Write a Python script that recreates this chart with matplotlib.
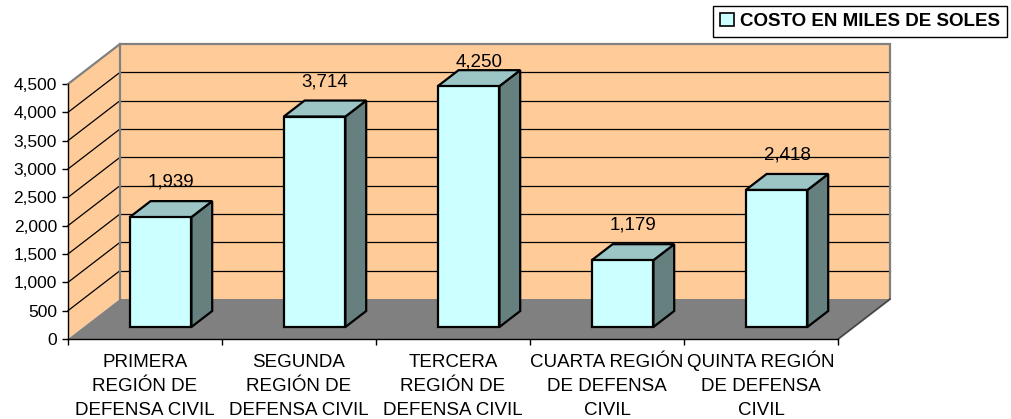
import matplotlib
matplotlib.use("Agg")
import matplotlib.pyplot as plt
from matplotlib.patches import Polygon, Patch

plt.rcParams['font.family'] = ['Liberation Sans', 'DejaVu Sans']

categories = ["PRIMERA\nREGIÓN DE\nDEFENSA CIVIL",
              "SEGUNDA\nREGIÓN DE\nDEFENSA CIVIL",
              "TERCERA\nREGIÓN DE\nDEFENSA CIVIL",
              "CUARTA REGIÓN\nDE DEFENSA\nCIVIL",
              "QUINTA REGIÓN\nDE DEFENSA\nCIVIL"]
costs = [1939, 3714, 4250, 1179, 2418]
series_name = "COSTO EN MILES DE SOLES"
yticks = list(range(0, 4501, 500))

W, H = 1011, 419
fig = plt.figure(figsize=(W / 100, H / 100), dpi=100)
# front plane of the 3D box (pixels): x 68..838, y 339 (0) .. 84 (4500)
ax = fig.add_axes([68 / W, (H - 339) / H, 770 / W, 255 / H])
n = len(categories)
YMAX = 4500
ax.set_xlim(0, n)
ax.set_ylim(0, YMAX)
ax.set_facecolor('none')

px_per_cat = 770 / n
px_per_val = 255 / YMAX
DX = 52 / px_per_cat        # depth offset in category units
DY = 40 / px_per_val        # depth offset in value units


def P(x, v, z):
    return (x + z * DX, v + z * DY)


def poly(pts, fc, ec, lw, z=1):
    ax.add_patch(Polygon(pts, closed=True, facecolor=fc, edgecolor=ec,
                         linewidth=lw, clip_on=False, zorder=z,
                         joinstyle='miter'))


WALL = '#FFCC99'
FLOOR = '#808080'
GRAY = '#808080'

# side wall, back wall, floor
poly([P(0, 0, 0), P(0, 0, 1), P(0, YMAX, 1), P(0, YMAX, 0)], WALL, 'none', 0, 1)
poly([P(0, 0, 1), P(n, 0, 1), P(n, YMAX, 1), P(0, YMAX, 1)], WALL, 'none', 0, 1)
poly([P(0, 0, 0), P(n, 0, 0), P(n, 0, 1), P(0, 0, 1)], FLOOR, 'none', 0, 1)

# gridlines
for g in yticks[1:-1]:
    x0, y0 = P(0, g, 1)
    x1, y1 = P(n, g, 1)
    ax.plot([x0, x1], [y0, y1], color='black', lw=0.9, clip_on=False, zorder=2)
    xa, ya = P(0, g, 0)
    ax.plot([xa, x0], [ya, y0], color='black', lw=0.9, clip_on=False, zorder=2)

# wall borders
border = [P(0, YMAX, 0), P(0, YMAX, 1), P(n, YMAX, 1), P(n, 0, 1), P(n, 0, 0)]
ax.plot([p[0] for p in border], [p[1] for p in border], color=GRAY, lw=1.6,
        clip_on=False, zorder=2, solid_joinstyle='miter')
ax.plot([P(0, 0, 1)[0], P(0, YMAX, 1)[0]], [P(0, 0, 1)[1], P(0, YMAX, 1)[1]],
        color=GRAY, lw=1.6, clip_on=False, zorder=2)
fr = [P(n, 0, 0), P(n, 0, 1)]
ax.plot([p[0] for p in fr], [p[1] for p in fr], color='#404040', lw=1.0,
        clip_on=False, zorder=2)

# bars
BW = 0.4
Z0, Z1 = 0.3, 0.7
FRONT = '#CCFFFF'
TOP = '#9CC5C5'
SIDE = '#668080'
label_off = 27 / px_per_val
label_cap = (339 - 62) / px_per_val
for i, v in enumerate(costs):
    c = i + 0.5
    l, r = c - BW / 2, c + BW / 2
    poly([P(r, 0, Z0), P(r, 0, Z1), P(r, v, Z1), P(r, v, Z0)], SIDE, 'black', 1.6, 3)
    poly([P(l, v, Z0), P(r, v, Z0), P(r, v, Z1), P(l, v, Z1)], TOP, 'black', 1.6, 3)
    poly([P(l, 0, Z0), P(r, 0, Z0), P(r, v, Z0), P(l, v, Z0)], FRONT, 'black', 1.6, 4)
    lx, ly = P(c, v, 0.5)
    ly = min(ly + label_off, label_cap)
    ax.text(lx, ly, f"{v:,}", ha='center', va='center', fontsize=13.5,
            zorder=5, clip_on=False)

# axes styling
for s in ['top', 'right']:
    ax.spines[s].set_visible(False)
ax.spines['left'].set_color('black')
ax.spines['bottom'].set_color('black')
ax.spines['left'].set_linewidth(1.0)
ax.spines['bottom'].set_linewidth(1.0)
ax.spines['left'].set_zorder(6)
ax.spines['bottom'].set_zorder(6)

ax.set_yticks(yticks)
ax.set_yticklabels([f"{t:,}" for t in yticks], fontsize=12.5)
ax.tick_params(axis='y', direction='out', length=4, width=1, pad=4)

ax.set_xticks(range(n + 1))
ax.set_xticklabels([])
ax.tick_params(axis='x', which='major', direction='out', length=4, width=1)

# category labels: one text per line with a fixed baseline step
line_base_pt = [19.9, 37.6, 54.9]
for i, cat in enumerate(categories):
    for j, line in enumerate(cat.split('\n')):
        ax.annotate(line, xy=(i + 0.5, 0), xycoords=('data', 'axes fraction'),
                    xytext=(0, -line_base_pt[j]), textcoords='offset points',
                    ha='center', va='baseline', fontsize=13.5,
                    annotation_clip=False)

# legend
leg = fig.legend(handles=[Patch(facecolor=FRONT, edgecolor='black', linewidth=1.2,
                                label=series_name)],
                 loc='upper right', bbox_to_anchor=(1007 / W, 1 - 6 / H),
                 prop={'weight': 'bold', 'size': 13.5}, frameon=True,
                 fancybox=False, edgecolor='black', framealpha=1,
                 borderpad=0.35, handlelength=0.75, handleheight=0.75,
                 handletextpad=0.35, borderaxespad=0)
leg.get_frame().set_linewidth(1.0)

fig.savefig('out.png', dpi=100)
